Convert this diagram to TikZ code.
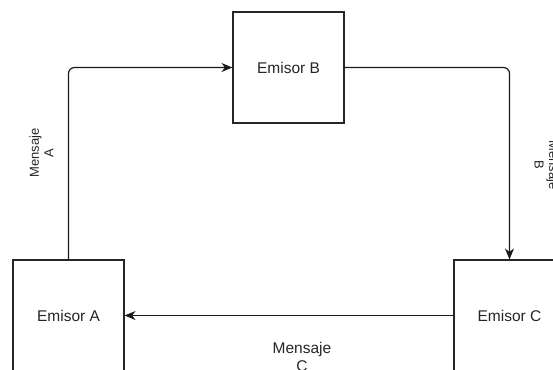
\documentclass[tikz,border=0pt]{standalone}
\usepackage{fontspec}
\setmainfont{Liberation Sans}
\usetikzlibrary{arrows.meta}
\begin{document}
\begin{tikzpicture}[x=1pt,y=-1pt,
  box/.style={draw=black!85, line width=1.2pt, fill=white, minimum width=111pt,
    minimum height=111pt, inner sep=0pt, text=black!85,
    font=\fontsize{15.5}{18}\selectfont},
  link/.style={draw=black!90, line width=1.2pt, rounded corners=6pt,
    -{Stealth[length=11pt,width=9pt]}},
  tag/.style={text=black!85, align=center, inner sep=0pt},
  smalltag/.style={tag, font=\fontsize{13}{14.5}\selectfont},
  bigtag/.style={tag, font=\fontsize{15.5}{18}\selectfont}]
  \useasboundingbox (0,0) rectangle (553,369);
  \clip (0,0) rectangle (553,369);
  \fill[white] (0,0) rectangle (553,369);

  % the three senders
  \node[box] (B) at (288.5,67.5) {Emisor B};
  \node[box] (A) at (68.5,315.5) {Emisor A};
  \node[box] (C) at (509.5,315.5) {Emisor C};

  % message paths
  \draw[link] (A.north) |- (B.west);
  \draw[link] (B.east) -| (C.north);
  \draw[link] (C.west) -- (A.east);

  % message labels
  \node[smalltag, rotate=90] (mA) at (41.5,153) {Mensaje\\A};
  \node[smalltag, rotate=-90] (mB) at (546.5,165) {Mensaje\\B};
  \node[bigtag] (mC) at (302,357) {Mensaje\\C};
\end{tikzpicture}
\end{document}
